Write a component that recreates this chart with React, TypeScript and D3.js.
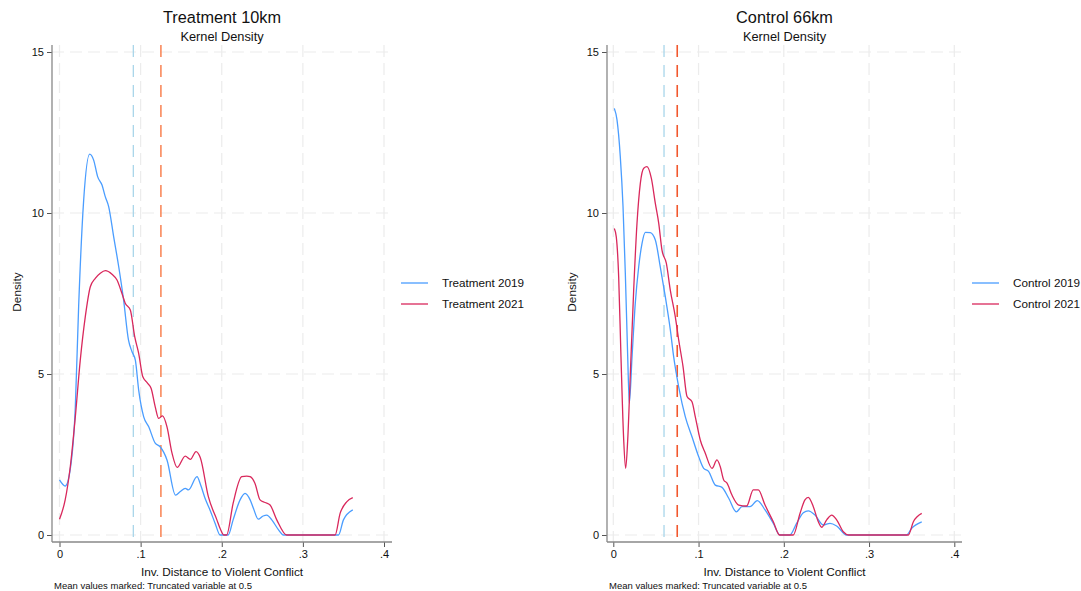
import * as d3 from "d3";
import React, { useEffect, useRef } from "react";

// axis ticks
const xTicks = [0, 0.1, 0.2, 0.3, 0.4];
const xTickLabels = ["0", ".1", ".2", ".3", ".4"];
const yTicks = [0, 5, 10, 15];

// kernel density readings [x, density]
const treat2019 = [
  [0, 1.71], [0.007, 1.52], [0.013, 2.0], [0.0195, 3.98], [0.0236, 7.1], [0.0298, 10.4],
  [0.0372, 11.83], [0.042, 11.65], [0.047, 11.13], [0.0524, 10.87], [0.0565, 10.5],
  [0.0606, 10.2], [0.0668, 9.26], [0.073, 8.33], [0.079, 7.3], [0.085, 6.06], [0.0894, 5.69],
  [0.0935, 5.43], [0.0976, 4.5], [0.1038, 3.67], [0.11, 3.36], [0.118, 2.85], [0.124, 2.74],
  [0.1325, 2.33], [0.143, 1.24], [0.149, 1.35], [0.155, 1.45], [0.159, 1.4], [0.1695, 1.81],
  [0.174, 1.55], [0.18, 1.1], [0.1855, 0.78], [0.192, 0.35], [0.198, 0], [0.208, 0],
  [0.214, 0.47], [0.2226, 1.09], [0.2287, 1.29], [0.235, 1.09], [0.239, 0.83], [0.245, 0.49],
  [0.251, 0.59], [0.2555, 0.62], [0.2617, 0.47], [0.27, 0.16], [0.276, 0], [0.344, 0],
  [0.35, 0.47], [0.3615, 0.78],
];

const treat2021 = [
  [0, 0.49], [0.007, 1.09], [0.0133, 2.12], [0.0195, 3.67], [0.0256, 5.43], [0.0318, 6.78],
  [0.038, 7.71], [0.0441, 7.97], [0.0503, 8.13], [0.0565, 8.21], [0.0647, 8.1], [0.0709, 7.92],
  [0.077, 7.5], [0.081, 7.2], [0.0873, 6.99], [0.0927, 6.16], [0.0976, 5.64], [0.1026, 4.92],
  [0.108, 4.73], [0.113, 4.55], [0.118, 3.98], [0.1223, 3.62], [0.127, 3.7], [0.1325, 3.36],
  [0.1387, 2.54], [0.145, 2.1], [0.155, 2.45], [0.1613, 2.35], [0.1683, 2.59], [0.1736, 2.4],
  [0.1835, 1.19], [0.194, 0.47], [0.198, 0.2], [0.2025, 0], [0.206, 0], [0.214, 0.98],
  [0.2246, 1.81], [0.2308, 1.83], [0.235, 1.81], [0.241, 1.6], [0.2472, 1.09], [0.2534, 1.01],
  [0.2596, 0.93], [0.2678, 0.47], [0.28, 0], [0.3397, 0], [0.3459, 0.67], [0.354, 1.03],
  [0.3615, 1.16],
];

const ctrl2019 = [
  [0.0012, 13.25], [0.0043, 12.9], [0.0082, 11.75], [0.0114, 10.2], [0.0141, 8.13],
  [0.0169, 5.54], [0.0188, 4.09], [0.022, 5.54], [0.0258, 7.2], [0.0298, 8.33], [0.0337, 9.06],
  [0.0376, 9.4], [0.0434, 9.39], [0.0493, 9.16], [0.0551, 8.33], [0.061, 7.4], [0.0669, 6.37],
  [0.0708, 5.54], [0.0767, 4.6], [0.0845, 3.67], [0.0923, 3.05], [0.1002, 2.43], [0.106, 2.07],
  [0.1119, 1.97], [0.1196, 1.55], [0.1275, 1.48], [0.1354, 1.14], [0.1443, 0.72], [0.151, 0.88],
  [0.1604, 0.88], [0.1689, 1.07], [0.178, 0.78], [0.1877, 0.36], [0.1955, 0], [0.207, 0],
  [0.215, 0.36], [0.2229, 0.69], [0.2287, 0.75], [0.2366, 0.62], [0.2463, 0.31], [0.2542, 0.36],
  [0.262, 0.28], [0.2738, 0], [0.344, 0], [0.35, 0.21], [0.3618, 0.41],
];

const ctrl2021 = [
  [0.0012, 9.52], [0.0035, 9.26], [0.0063, 8.02], [0.009, 5.54], [0.0122, 2.95], [0.0145, 2.07],
  [0.0169, 2.95], [0.02, 5.02], [0.0239, 7.6], [0.0278, 9.68], [0.0317, 10.92], [0.0357, 11.39],
  [0.0395, 11.44], [0.0446, 11.08], [0.0493, 10.3], [0.0533, 9.68], [0.0571, 8.85],
  [0.0622, 8.44], [0.0669, 7.6], [0.0727, 6.78], [0.0767, 6.06], [0.0818, 5.23], [0.0865, 4.3],
  [0.0923, 4.14], [0.0962, 3.67], [0.102, 2.95], [0.1079, 2.54], [0.1158, 2.07], [0.1216, 2.33],
  [0.1255, 2.12], [0.1295, 1.71], [0.1334, 1.61], [0.1392, 1.24], [0.1471, 0.93],
  [0.1564, 0.9], [0.1642, 1.4], [0.17, 1.4], [0.178, 0.93], [0.1877, 0.41], [0.195, 0],
  [0.2111, 0], [0.219, 0.67], [0.2248, 1.09], [0.2287, 1.17], [0.2346, 0.88], [0.2405, 0.41],
  [0.2444, 0.24], [0.2503, 0.47], [0.2562, 0.62], [0.262, 0.47], [0.2698, 0.1], [0.276, 0],
  [0.346, 0], [0.352, 0.41], [0.3618, 0.67],
];

const treatMeans = [0.091, 0.125];
const ctrlMeans = [0.0595, 0.075];
const treatLegend = ["Treatment 2019", "Treatment 2021"];
const ctrlLegend = ["Control 2019", "Control 2021"];

const seriesColors = ["#4a9dff", "#d9285c"];
const font = "'Liberation Sans', Arial, Helvetica, sans-serif";

const panels = [
  {
    title: "Treatment 10km", series: [treat2019, treat2021], means: treatMeans, legend: treatLegend,
    axisX: 52, x0: 59.5, x4: 384, right: 392, legendX: 401,
    meanColors: ["#a9d6ea", "#f98a5c"],
  },
  {
    title: "Control 66km", series: [ctrl2019, ctrl2021], means: ctrlMeans, legend: ctrlLegend,
    axisX: 607, x0: 613.3, x4: 954.3, right: 962, legendX: 972,
    meanColors: ["#a9d6ea", "#f2572d"],
  },
];

const App = () => {
  const svgRef = useRef(null);

  useEffect(() => {
    const svg = d3.select(svgRef.current);
    svg.selectAll("*").remove();
    svg.attr("font-family", font);

    const yScale = d3.scaleLinear().domain([0, 15]).range([535, 52]);
    const top = 45, bottom = 542;

    panels.forEach((p) => {
      const xScale = d3.scaleLinear().domain([0, 0.4]).range([p.x0, p.x4]);
      const g = svg.append("g");
      const cx = (p.axisX + p.right) / 2;

      // grid
      g.selectAll(".vgrid").data(xTicks).enter().append("line")
        .attr("x1", d => xScale(d)).attr("x2", d => xScale(d))
        .attr("y1", top).attr("y2", bottom)
        .attr("stroke", "#ececec").attr("stroke-width", 1.2).attr("stroke-dasharray", "12,6");
      g.selectAll(".hgrid").data(yTicks).enter().append("line")
        .attr("x1", p.axisX).attr("x2", p.right)
        .attr("y1", d => yScale(d)).attr("y2", d => yScale(d))
        .attr("stroke", "#ececec").attr("stroke-width", 1.2).attr("stroke-dasharray", "12,6");

      // mean lines
      g.selectAll(".mean").data(p.means).enter().append("line")
        .attr("x1", d => xScale(d)).attr("x2", d => xScale(d))
        .attr("y1", top).attr("y2", bottom)
        .attr("stroke", (d, i) => p.meanColors[i])
        .attr("stroke-width", (d, i) => (i === 0 ? 1.3 : 1.6))
        .attr("stroke-dasharray", "12,8");

      // density curves
      const line = d3.line()
        .x(d => xScale(d[0]))
        .y(d => yScale(d[1]))
        .curve(d3.curveMonotoneX);
      g.selectAll(".curve").data(p.series).enter().append("path")
        .attr("fill", "none")
        .attr("stroke", (d, i) => seriesColors[i])
        .attr("stroke-width", 1.3)
        .attr("d", d => line(d));

      // axes
      const yAxis = g.append("g")
        .attr("transform", `translate(${p.axisX},0)`)
        .call(d3.axisLeft(yScale).tickValues(yTicks).tickSize(5));
      yAxis.select(".domain").remove();
      const xAxis = g.append("g")
        .attr("transform", `translate(0,${bottom})`)
        .call(d3.axisBottom(xScale).tickValues(xTicks).tickSize(5)
          .tickFormat((d, i) => xTickLabels[i]));
      xAxis.select(".domain").remove();
      [yAxis, xAxis].forEach(a => {
        a.selectAll("text").attr("font-size", 11).attr("fill", "#111").attr("font-family", font);
        a.selectAll(".tick line").attr("stroke", "#555");
      });
      g.append("line").attr("x1", p.axisX).attr("x2", p.axisX).attr("y1", top).attr("y2", bottom)
        .attr("stroke", "#888").attr("stroke-width", 1.3);
      g.append("line").attr("x1", p.axisX).attr("x2", p.right).attr("y1", bottom).attr("y2", bottom)
        .attr("stroke", "#888").attr("stroke-width", 1.3);

      // titles and labels
      g.append("text").attr("x", cx).attr("y", 22.5).attr("text-anchor", "middle")
        .attr("font-size", 16.3).attr("fill", "#111").text(p.title);
      g.append("text").attr("x", cx).attr("y", 40.5).attr("text-anchor", "middle")
        .attr("font-size", 12.8).attr("fill", "#111").text("Kernel Density");
      g.append("text").attr("x", cx).attr("y", 576).attr("text-anchor", "middle")
        .attr("font-size", 11.8).attr("fill", "#111").text("Inv. Distance to Violent Conflict");
      g.append("text").attr("x", p.axisX + 2).attr("y", 589)
        .attr("font-size", 9.5).attr("fill", "#111").text("Mean values marked: Truncated variable at 0.5");
      g.append("text")
        .attr("transform", `translate(${p.axisX - 31},292) rotate(-90)`)
        .attr("text-anchor", "middle").attr("font-size", 11.8).attr("fill", "#111").text("Density");

      // legend
      const leg = g.selectAll(".leg").data(p.legend).enter().append("g")
        .attr("transform", (d, i) => `translate(${p.legendX},${283 + i * 21})`);
      leg.append("line").attr("x1", 0).attr("x2", 27).attr("y1", 0).attr("y2", 0)
        .attr("stroke", (d, i) => seriesColors[i]).attr("stroke-width", 1.3);
      leg.append("text").attr("x", 41).attr("y", 4.2).attr("font-size", 11.7).attr("fill", "#111")
        .text(d => d);
    });
  }, []);

  return (
    <svg ref={svgRef} width={1081} height={591}
      style={{ position: "absolute", left: 0, top: 0, background: "#fff" }} />
  );
};

export default App;
